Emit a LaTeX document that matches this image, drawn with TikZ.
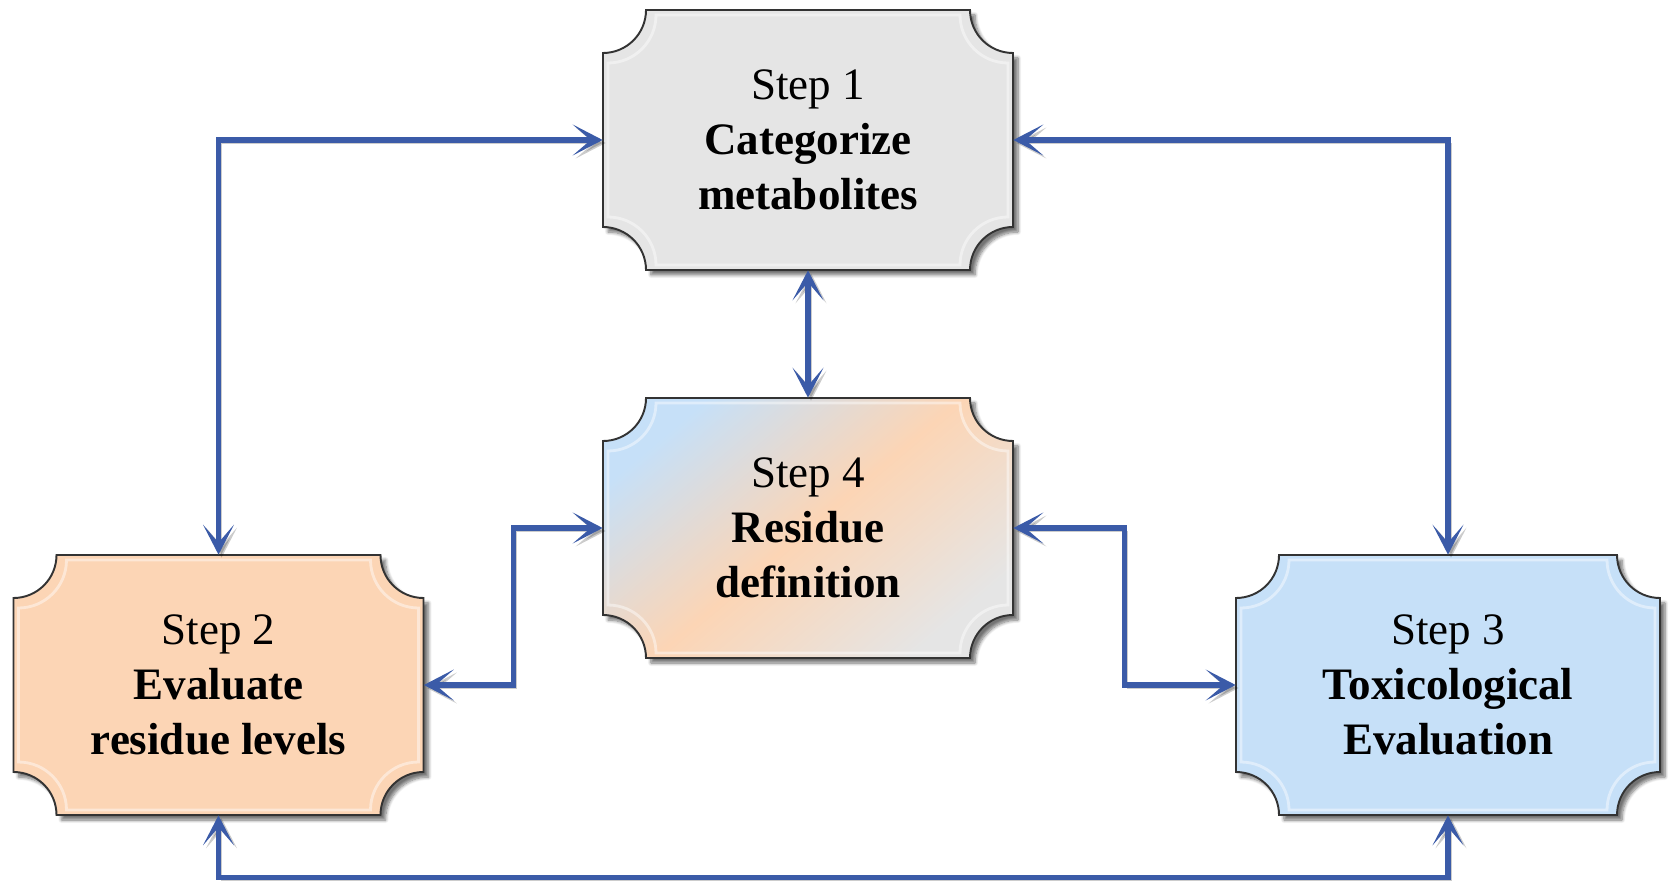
\documentclass[tikz,border=0pt]{standalone}
\usepackage{fontspec}
\setmainfont{Liberation Serif}
\usepackage{tikz}
\usetikzlibrary{calc,arrows.meta,backgrounds,shadows.blur}
\definecolor{linkblue}{HTML}{3B5BA8}
\definecolor{peach}{HTML}{FCD5B5}
\definecolor{skyblue}{HTML}{C6E0F8}
\definecolor{lightgrey}{HTML}{E5E5E5}
\definecolor{rimgrey}{HTML}{333333}
% box with concave corners: [style](centre)(half width:half height:notch radius)
\def\notchbox[#1](#2)(#3:#4:#5){\path[#1] ($(#2)+(-#3+#5,#4)$) -- ($(#2)+(#3-#5,#4)$) arc[start angle=180,end angle=270,radius=#5] -- ($(#2)+(#3,-#4+#5)$) arc[start angle=90,end angle=180,radius=#5] -- ($(#2)+(-#3+#5,-#4)$) arc[start angle=0,end angle=90,radius=#5] -- ($(#2)+(-#3,#4-#5)$) arc[start angle=270,end angle=360,radius=#5] -- cycle;}
\tikzset{
  stepnode/.style={minimum width=8.2cm, minimum height=5.2cm, align=center,
    font=\fontsize{25.6}{31.4}\selectfont},
  stepshape/.style={draw=rimgrey, line width=1.1pt,
    blur shadow={shadow xshift=0.1cm, shadow yshift=-0.1cm, shadow opacity=55, shadow blur steps=8}},
  bevel/.style={draw=white, line width=1.6pt, opacity=.45},
  link/.style={draw=linkblue, line width=0.11cm,
    preaction={draw=black, opacity=.2, transform canvas={xshift=0.06cm,yshift=-0.06cm}},
    {Stealth[length=0.6cm,width=0.62cm,inset=0.36cm]}-{Stealth[length=0.6cm,width=0.62cm,inset=0.36cm]}}
}
\begin{document}
\begin{tikzpicture}
		\useasboundingbox (0,0) rectangle (33.38,17.74);
		%%%%% STEPS %%%%%
		\node[stepnode] (s1) at (16.16,14.94) {Step 1\\\textbf{Categorize}\\\textbf{metabolites}};
		\node[stepnode] (s4) at (16.16,7.18) {Step 4\\\textbf{Residue}\\\textbf{definition}};
		\node[stepnode] (s2) at (4.37,4.04) {Step 2\\\textbf{Evaluate}\\\textbf{residue levels}};
		\node[stepnode, minimum width=8.48cm] (s3) at (28.96,4.04) {Step 3\\\textbf{Toxicological}\\\textbf{Evaluation}};
		
		\begin{scope}[on background layer]
			\notchbox[stepshape, fill=lightgrey](s1)(4.1:2.6:0.86)
			\notchbox[bevel](s1)(4.0:2.5:0.96)
			\notchbox[stepshape, top color=skyblue, bottom color=lightgrey, middle color=peach, shading angle=40](s4)(4.1:2.6:0.86)
			\notchbox[bevel](s4)(4.0:2.5:0.96)
			\notchbox[stepshape, fill=peach](s2)(4.1:2.6:0.86)
			\notchbox[bevel](s2)(4.0:2.5:0.96)
			\notchbox[stepshape, fill=skyblue](s3)(4.24:2.6:0.86)
			\notchbox[bevel](s3)(4.14:2.5:0.96)
		\end{scope}
		
		%%%%% LINKS %%%%%
		\draw[link] (s2.north) |- (s1.west);
		\draw[link] (s3.north) |- (s1.east);
		\draw[link] (s1.south) -- (s4.north);
		\draw[link] (s4.west) -| ($(s2.east)!.5!(s4.west)$) |- (s2.east);
		\draw[link] (s4.east) -| ($(s3.west)!.5!(s4.east)$) |- (s3.west);
		\draw[link] (s2.south) -- ++(0,-1.24) -| (s3.south);
	\end{tikzpicture}
\end{document}
